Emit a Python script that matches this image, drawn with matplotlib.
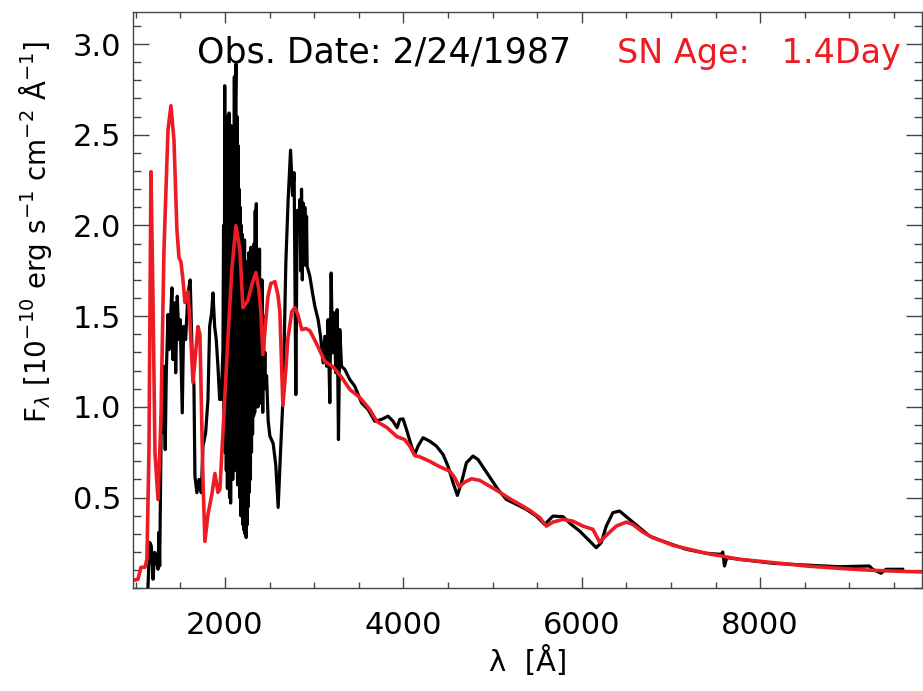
import matplotlib
matplotlib.use("Agg")
import matplotlib.pyplot as plt
from matplotlib.ticker import MultipleLocator, FixedLocator

# Observed spectrum (wavelength in Angstrom, flux in 1e-10 erg/s/cm2/A)
obs_wave = [1130, 1138, 1157, 1175, 1194, 1213, 1231, 1250, 1261, 1269, 1287, 1298, 1314, 1331,
            1343, 1362, 1373, 1387, 1406, 1418, 1437, 1448, 1466, 1485, 1499, 1522, 1537, 1560,
            1586, 1611, 1634, 1653, 1664, 1686, 1709, 1735, 1754, 1784, 1810, 1829, 1851, 1866,
            1885, 1903, 1922, 1941, 1959, 1978,
            1985, 1992, 1998, 2004, 2010, 2016, 2022, 2028, 2034, 2040, 2046, 2052, 2058, 2064,
            2070, 2076, 2082, 2088, 2094, 2100, 2106, 2112, 2118, 2124, 2130, 2136, 2142, 2148,
            2154, 2160, 2166, 2172, 2178, 2184, 2190, 2196, 2202, 2208, 2214, 2220, 2226, 2232,
            2238, 2244, 2250, 2256, 2262, 2268, 2274, 2280, 2286, 2292, 2298, 2304, 2310, 2316,
            2322, 2328, 2334, 2340, 2346, 2352, 2358, 2364, 2370, 2376, 2382, 2388, 2394, 2400,
            2408, 2416, 2424, 2432, 2440, 2448, 2456, 2467,
            2485, 2504, 2541, 2571,
            2597, 2624, 2653, 2683, 2709, 2736, 2758, 2776, 2795, 2810, 2832, 2840, 2850, 2859,
            2868, 2877, 2886, 2896, 2907, 2915, 2922, 2952, 2982, 3008, 3045, 3072, 3101, 3120,
            3139, 3157, 3176, 3191, 3206, 3224, 3243, 3258, 3273, 3288, 3307, 3344, 3400, 3456,
            3531, 3605, 3680, 3755,
            3829, 3885, 3930, 3960, 3997, 4035, 4091, 4128, 4165, 4221, 4296, 4371, 4445, 4501,
            4557, 4606, 4651, 4707, 4781, 4837, 4912, 4987, 5061, 5155, 5267, 5379, 5491, 5584,
            5677, 5789, 5883, 5976, 6069, 6163, 6219, 6275, 6349, 6424, 6536, 6648, 6760, 6872,
            7171, 7395, 7563, 7581, 7600, 7626, 7768, 8141, 8515, 8888, 9224, 9261, 9355, 9411,
            9597]
obs_flux = [-0.05, 0.013, 0.253, 0.233, 0.05, 0.198, 0.16, 0.105, 0.308, 0.123, 0.949, 0.859, 1.224, 0.765,
            1.189, 1.509, 1.316, 1.444, 1.656, 1.261, 1.573, 1.188, 1.61, 1.371, 1.481, 0.967, 1.444, 1.371,
            1.628, 1.70, 1.261, 1.114, 0.618, 0.527, 0.60, 0.527, 0.784, 0.857, 1.041, 1.444, 1.518, 1.628,
            1.444, 1.371, 1.224, 1.041, 1.041, 1.316,
            2.0, 0.8, 2.77, 0.75, 2.55, 0.65, 2.6, 0.55, 2.45, 0.6, 2.62, 0.5, 2.3, 0.47,
            2.55, 0.7, 2.4, 0.6, 2.5, 0.8, 2.82, 0.65, 2.7, 2.89, 0.7, 2.6, 0.57, 2.44,
            0.62, 2.2, 0.5, 2.1, 0.4, 2.0, 0.45, 1.95, 0.35, 1.9, 0.32, 1.92, 0.3, 1.8,
            0.28, 1.75, 0.35, 1.8, 0.45, 1.85, 0.53, 1.75, 0.6, 1.88, 0.75, 1.7, 0.85, 1.6,
            0.95, 1.9, 0.97, 2.08, 1.0, 2.12, 1.05, 1.8, 1.0, 1.85, 1.03, 1.87, 1.02, 1.6,
            1.1, 1.7, 0.97, 1.5, 1.15, 1.3, 1.1, 1.173,
            0.923, 0.84, 0.798, 0.675,
            0.446, 0.757, 1.068, 1.793, 2.145, 2.415, 2.166, 2.291, 1.068, 2.083, 2.042, 2.142, 1.75, 2.2,
            1.7, 2.124, 1.8, 2.1, 1.78, 2.05, 1.775, 1.72, 1.628, 1.555, 1.481, 1.389, 1.243, 1.389,
            1.224, 1.481, 1.023, 1.738, 1.298, 1.518, 1.188, 1.536, 0.82, 1.426, 1.224, 1.206, 1.151, 1.114,
            1.023, 0.986, 0.921, 0.931,
            0.949, 0.921, 0.885, 0.931, 0.934, 0.876, 0.784, 0.738, 0.784, 0.83, 0.811, 0.784, 0.738, 0.673,
            0.582, 0.512, 0.582, 0.692, 0.729, 0.71, 0.655, 0.60, 0.545, 0.49, 0.463, 0.435, 0.398, 0.352,
            0.398, 0.395, 0.352, 0.316, 0.27, 0.224, 0.252, 0.343, 0.417, 0.426, 0.38, 0.334, 0.288, 0.266,
            0.215, 0.193, 0.187, 0.20, 0.123, 0.169, 0.16, 0.138, 0.128, 0.119, 0.123, 0.105, 0.083, 0.105,
            0.105]

# Model spectrum
mod_wave = [975, 1026, 1059, 1104, 1126, 1149, 1171, 1194, 1216, 1250, 1283, 1317, 1362, 1395, 1429,
            1462, 1485, 1507, 1530, 1552, 1586, 1608, 1642, 1675, 1698, 1720, 1754, 1776, 1810, 1854,
            1888, 1922, 1944, 1978, 2034, 2078, 2123, 2168, 2202, 2258, 2302, 2347, 2381, 2403, 2426,
            2459, 2482, 2515, 2560, 2594, 2616, 2650, 2683, 2706, 2750, 2784, 2818, 2862, 2907, 2952,
            2986, 3042, 3120, 3210, 3310, 3400, 3512, 3624, 3702, 3814, 3926, 3960, 4016, 4072, 4128,
            4184, 4296, 4408, 4520, 4576, 4624, 4688, 4763, 4856, 4968, 5080, 5192, 5304, 5416, 5528,
            5603, 5677, 5789, 5901, 6013, 6125, 6200, 6275, 6387, 6499, 6573, 6685, 6797, 6872, 7021,
            7395, 7768, 8141, 8515, 8888, 9261, 9818]
mod_flux = [0.044, 0.05, 0.116, 0.116, 0.16, 0.765, 2.296, 1.59, 0.749, 0.49, 0.93, 1.867, 2.527, 2.66, 2.472,
            1.977, 1.823, 1.80, 1.70, 1.575, 1.635, 1.48, 1.134, 1.316, 1.443, 1.399, 0.60, 0.259, 0.407, 0.518,
            0.633, 0.529, 0.545, 0.859, 1.377, 1.757, 1.999, 1.867, 1.547, 1.586, 1.674, 1.74, 1.646, 1.525, 1.289,
            1.48, 1.608, 1.68, 1.69, 1.619, 1.525, 1.008, 1.206, 1.377, 1.525, 1.547, 1.509, 1.426, 1.432, 1.42,
            1.388, 1.333, 1.25, 1.222, 1.162, 1.096, 1.052, 0.986, 0.92, 0.887, 0.837, 0.83, 0.82, 0.784, 0.732,
            0.725, 0.70, 0.67, 0.646, 0.61, 0.56, 0.585, 0.604, 0.595, 0.563, 0.53, 0.494, 0.463, 0.43, 0.39,
            0.343, 0.365, 0.38, 0.37, 0.343, 0.325, 0.255, 0.292, 0.343, 0.365, 0.352, 0.31, 0.279, 0.266, 0.237,
            0.193, 0.16, 0.142, 0.123, 0.11, 0.099, 0.09]

x_major = [2000, 4000, 6000, 8000]
y_major = [0.5, 1.0, 1.5, 2.0, 2.5, 3.0]
obs_text = "Obs. Date: 2/24/1987"
age_text = "SN Age:   1.4Day"

plt.rcParams['font.family'] = ['DejaVu Sans']

fig = plt.figure(figsize=(9.23, 6.91), dpi=100)
ax = fig.add_axes([0.1446, 0.1486, 0.8544, 0.8336])

red = '#ED1C24'
ax.plot(obs_wave, obs_flux, color='black', lw=2.3)
ax.plot(mod_wave, mod_flux, color=red, lw=2.6)

ax.set_xlim(975, 9815)
ax.set_ylim(0.0, 3.175)

ax.xaxis.set_major_locator(FixedLocator(x_major))
ax.xaxis.set_minor_locator(MultipleLocator(500))
ax.yaxis.set_major_locator(FixedLocator(y_major))
ax.yaxis.set_minor_locator(MultipleLocator(0.1))
ax.set_yticklabels([f"{v:.1f}" for v in y_major])

axcol = '#444444'
for s in ax.spines.values():
    s.set_color(axcol)
    s.set_linewidth(1.0)

ax.tick_params(axis='both', which='both', direction='in', top=True, right=True,
               color=axcol, width=1.0, labelsize=22)
ax.tick_params(axis='x', which='major', length=8, pad=16)
ax.tick_params(axis='x', which='minor', length=4)
ax.tick_params(axis='y', which='major', length=11.5, pad=9)
ax.tick_params(axis='y', which='minor', length=5.5)

ax.text(0.081, 0.912, obs_text, transform=ax.transAxes, fontsize=25, color='black',
        ha='left', va='baseline')
ax.text(0.613, 0.912, age_text, transform=ax.transAxes, fontsize=24, color=red,
        ha='left', va='baseline')

ax.set_xlabel("λ  [Å]", fontsize=21, labelpad=5)
fig.text(0.039, 1 - 232 / 691,
         r"F$_\lambda$ [10$^{-10}$ erg s$^{-1}$ cm$^{-2}$ Å$^{-1}$]",
         rotation=90, ha='center', va='center', fontsize=20)

fig.savefig("out.png", dpi=100)
